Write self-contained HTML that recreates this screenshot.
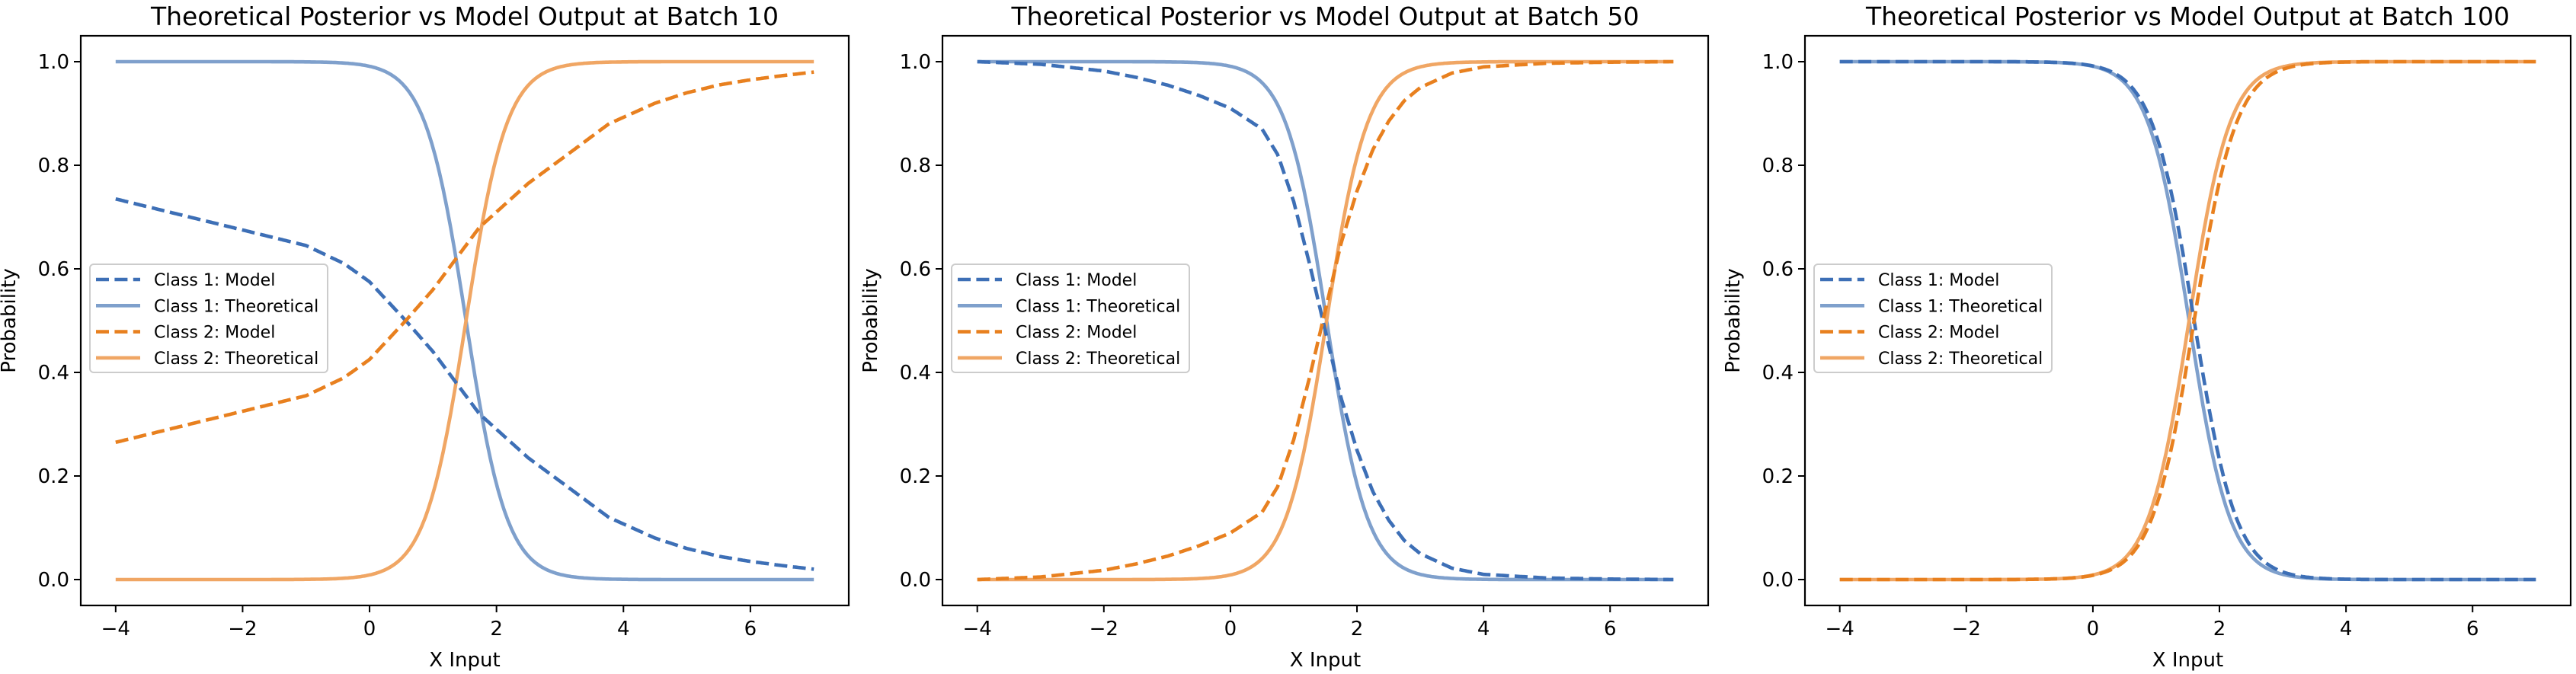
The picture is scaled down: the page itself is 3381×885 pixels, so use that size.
<!DOCTYPE html>
<html><head><meta charset="utf-8"><style>
html,body{margin:0;padding:0;background:#fff;}
svg{display:block;font-family:"DejaVu Sans","Liberation Sans",sans-serif;}
</style></head><body>
<svg id="s" width="3381" height="885" viewBox="0 0 3381 885" xmlns="http://www.w3.org/2000/svg"></svg>
<script>
const S=document.getElementById('s');
const NS='http://www.w3.org/2000/svg';
function el(t,a,txt){const e=document.createElementNS(NS,t);for(const k in a)e.setAttribute(k,a[k]);if(txt!=null)e.textContent=txt;S.appendChild(e);return e;}
function sig(x,k,c){return 1/(1+Math.exp(k*(x-c)));}
function interp(m,x){for(let i=0;i<m.length-1;i++){if(x<=m[i+1][0]){const t=(x-m[i][0])/(m[i+1][0]-m[i][0]);return m[i][1]+t*(m[i+1][1]-m[i][1]);}}return m[m.length-1][1];}
const m10=[[-4,.735],[-3,.705],[-2,.675],[-1,.645],[-0.4,.61],[0,.575],[0.57,.50],[1,.44],[1.73,.32],[2.5,.235],[3,.19],[3.77,.12],[4.5,.08],[5,.06],[5.5,.045],[6,.035],[6.5,.027],[7,.02]];
const m50=[[-4,1.0],[-3,.995],[-2,.982],[-1.5,.97],[-1,.955],[-0.5,.935],[0,.91],[0.5,.87],[0.75,.82],[1,.73],[1.25,.61],[1.5,.48],[1.75,.35],[2,.25],[2.25,.17],[2.5,.115],[2.75,.075],[3,.05],[3.5,.022],[4,.01],[5,.003],[6,.001],[7,0]];
const panels=[
 {L:106,W:1008,title:"Theoretical Posterior vs Model Output at Batch 10",f:x=>interp(m10,x)},
 {L:1237,W:1005,title:"Theoretical Posterior vs Model Output at Batch 50",f:x=>interp(m50,x)},
 {L:2369,W:1005,title:"Theoretical Posterior vs Model Output at Batch 100",f:x=>sig(x,3.0,1.6)}
];
const th=x=>sig(x,3.1,1.52);
const T=47,B=795;
panels.forEach(p=>{
 const ux=p.W/12.1;
 const X=x=>p.L+(x+4.55)*ux;
 const Y=y=>761-y*680;
 el('text',{x:p.L+p.W/2,y:33,'font-size':33,'text-anchor':'middle'},p.title);
 function path(f){let d='';for(let i=0;i<=550;i++){const x=-4+11*i/550;d+=(i?'L':'M')+X(x).toFixed(1)+' '+Y(f(x)).toFixed(1);}return d;}
 el('path',{d:path(th),fill:'none',stroke:'#7fa0cc','stroke-width':4.6});
 el('path',{d:path(x=>1-th(x)),fill:'none',stroke:'#f0a664','stroke-width':4.6});
 el('path',{d:path(p.f),fill:'none',stroke:'#3d6fb6','stroke-width':4.6,'stroke-dasharray':'17 7.4'});
 el('path',{d:path(x=>1-p.f(x)),fill:'none',stroke:'#e8801f','stroke-width':4.6,'stroke-dasharray':'17 7.4'});
 el('rect',{x:p.L,y:T,width:p.W,height:B-T,fill:'none',stroke:'#000','stroke-width':2.2});
 for(let v=-4;v<=6;v+=2){el('line',{x1:X(v),x2:X(v),y1:B,y2:B+9,stroke:'#000','stroke-width':2});
  el('text',{x:X(v),y:B+39,'font-size':26,'text-anchor':'middle'},(v<0?'\u2212'+(-v):v));}
 for(let i=0;i<=5;i++){const v=i*0.2;el('line',{x1:p.L-9,x2:p.L,y1:Y(v),y2:Y(v),stroke:'#000','stroke-width':2});
  el('text',{x:p.L-15,y:Y(v)+9,'font-size':26,'text-anchor':'end'},v.toFixed(1));}
 el('text',{x:p.L+p.W/2,y:875,'font-size':26,'text-anchor':'middle'},'X Input');
 const yl=p.L-86;
 el('text',{x:yl,y:421,'font-size':26,'text-anchor':'middle',transform:`rotate(-90 ${yl} 421)`},'Probability');
 const lx=p.L+12,ly=347;
 el('rect',{x:lx,y:ly,width:312,height:142,rx:5,fill:'#fff','fill-opacity':0.8,stroke:'#ccc','stroke-width':2});
 const items=[['Class 1: Model','#3d6fb6',1],['Class 1: Theoretical','#7fa0cc',0],['Class 2: Model','#e8801f',1],['Class 2: Theoretical','#f0a664',0]];
 items.forEach((it,k)=>{const yy=ly+20+k*34.3;
  const a={x1:lx+8,x2:lx+66,y1:yy,y2:yy,stroke:it[1],'stroke-width':4.6};if(it[2])a['stroke-dasharray']='17 7.4';el('line',a);
  el('text',{x:lx+84,y:yy+8,'font-size':22},it[0]);});
});
</script>
</body></html>
